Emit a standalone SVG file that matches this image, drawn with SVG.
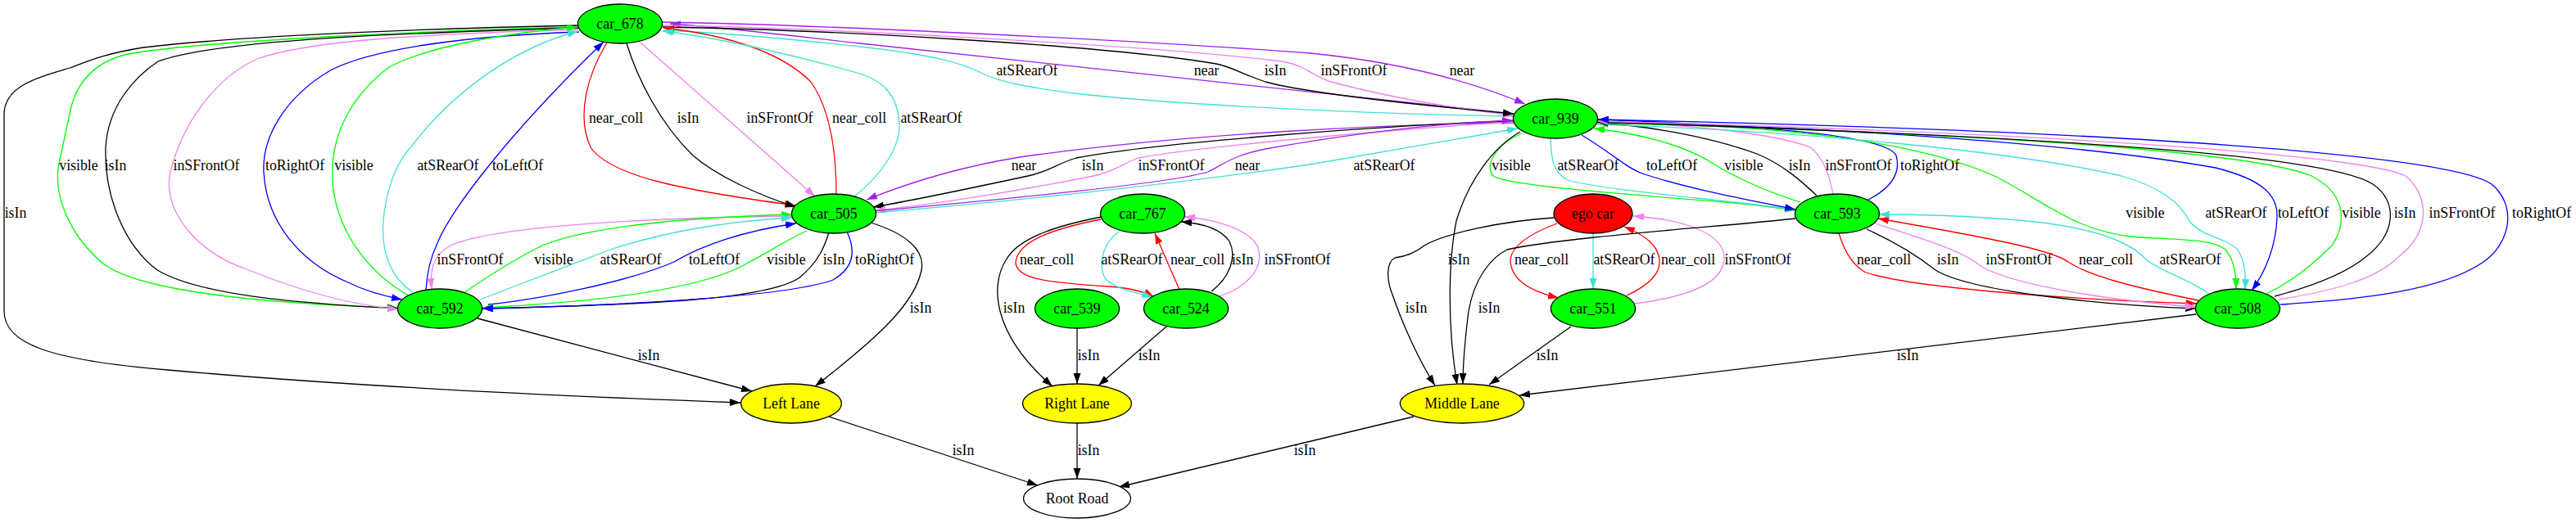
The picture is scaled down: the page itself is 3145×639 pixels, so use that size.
<svg xmlns="http://www.w3.org/2000/svg" width="3145" height="639" viewBox="0 0 3145 639">
<style>
text{font-family:"Liberation Serif","Times New Roman",serif;font-size:17.8px;text-anchor:middle;fill:#000}
.nd ellipse{stroke:#000;stroke-width:1.3}
.cg{fill:#00ff00}.cy{fill:#ffff00}.cr{fill:#ff0000}.cw{fill:#fff}
#edges path{fill:none;stroke-width:1.3}
.k{stroke:#000;marker-end:url(#ak)}
.r{stroke:#ff0000;marker-end:url(#ar)}
.p{stroke:#a020f0;marker-end:url(#ap)}
.g{stroke:#00ff00;marker-end:url(#ag)}
.t{stroke:#40e0d0;marker-end:url(#at)}
.v{stroke:#ee82ee;marker-end:url(#av)}
.b{stroke:#0000ff;marker-end:url(#ab)}
</style>
<defs>
<marker id="ak" viewBox="0 0 13 10" refX="13" refY="5" markerWidth="13" markerHeight="10" markerUnits="userSpaceOnUse" orient="auto"><path d="M0,0.5L13,5L0,9.5z" fill="#000"/></marker>
<marker id="ar" viewBox="0 0 13 10" refX="13" refY="5" markerWidth="13" markerHeight="10" markerUnits="userSpaceOnUse" orient="auto"><path d="M0,0.5L13,5L0,9.5z" fill="#ff0000"/></marker>
<marker id="ap" viewBox="0 0 13 10" refX="13" refY="5" markerWidth="13" markerHeight="10" markerUnits="userSpaceOnUse" orient="auto"><path d="M0,0.5L13,5L0,9.5z" fill="#a020f0"/></marker>
<marker id="ag" viewBox="0 0 13 10" refX="13" refY="5" markerWidth="13" markerHeight="10" markerUnits="userSpaceOnUse" orient="auto"><path d="M0,0.5L13,5L0,9.5z" fill="#00ff00"/></marker>
<marker id="at" viewBox="0 0 13 10" refX="13" refY="5" markerWidth="13" markerHeight="10" markerUnits="userSpaceOnUse" orient="auto"><path d="M0,0.5L13,5L0,9.5z" fill="#40e0d0"/></marker>
<marker id="av" viewBox="0 0 13 10" refX="13" refY="5" markerWidth="13" markerHeight="10" markerUnits="userSpaceOnUse" orient="auto"><path d="M0,0.5L13,5L0,9.5z" fill="#ee82ee"/></marker>
<marker id="ab" viewBox="0 0 13 10" refX="13" refY="5" markerWidth="13" markerHeight="10" markerUnits="userSpaceOnUse" orient="auto"><path d="M0,0.5L13,5L0,9.5z" fill="#0000ff"/></marker>
</defs>
<rect width="3145" height="639" fill="#fff"/>
<g id="edges">
<!-- car_939 <-> car_678 -->
<path class="t" d="M1848,142 C1700,140 1460,130 1320,115 C1255,107 1220,100 1200,90 C1175,77 1140,67 1050,57 C960,47 880,40 810,37"/><text x="1254" y="92">atSRearOf</text>
<path class="p" d="M1848,139 C1700,123 1300,80 1050,53 C960,43 880,33 818,29"/><text x="1473" y="92">near</text>
<path class="p" d="M808,27 C1000,30 1400,50 1600,65 C1700,75 1790,97 1862,127"/><text x="1785" y="92">near</text>
<path class="v" d="M809,31 C1000,34 1400,55 1565,75 C1595,80 1600,92 1625,100 C1700,120 1780,133 1848,141"/><text x="1653" y="92">inSFrontOf</text>
<path class="k" d="M809,33 C1000,36 1350,55 1485,78 C1505,82 1515,90 1545,100 C1600,115 1750,130 1848,139"/><text x="1557" y="92">isIn</text>
<!-- car_678 <-> car_505 -->
<path class="r" d="M741,52 C718,90 703,140 721,180 C745,215 830,232 971,251"/><text x="752" y="150">near_coll</text>
<path class="k" d="M765,53 C778,95 805,150 846,190 C875,215 925,238 972,253"/><text x="840" y="150">isIn</text>
<path class="v" d="M782,52 L995,240"/><text x="952" y="150">inSFrontOf</text>
<path class="r" d="M1021,238 C1021,200 1018,140 990,100 C950,60 880,42 810,34"/><text x="1049" y="150">near_coll</text>
<path class="t" d="M1042,241 C1075,215 1100,180 1098,150 C1096,120 1082,100 1050,90 C980,70 880,46 809,38"/><text x="1137" y="150">atSRearOf</text>
<!-- car_678 -> left side -->
<path class="k" d="M706,31 C560,34 310,42 175,58 C125,66 105,76 85,83 C45,95 5,105 5,140 L5,380 C5,420 60,440 205,452 C405,470 655,483 904,492"/><text x="19" y="266">isIn</text>
<path class="g" d="M706,33 C505,38 255,50 162,65 C122,72 97,95 87,130 L72,200 C64,240 87,290 127,323 C172,355 305,370 486,376"/><text x="96" y="208">visible</text>
<path class="k" d="M706,34 C505,40 265,48 193,75 C163,95 132,130 129,180 C127,240 152,300 192,330 C243,360 355,370 486,377"/><text x="141" y="208">isIn</text>
<path class="v" d="M706,36 C505,42 375,50 314,72 C263,95 223,150 208,210 C198,260 243,310 304,330 C365,355 426,372 486,378"/><text x="252" y="208">inSFrontOf</text>
<path class="b" d="M707,39 C565,44 455,60 405,85 C345,120 320,170 322,210 C325,270 365,320 425,345 C445,355 465,361 491,366"/><text x="360" y="208">toRightOf</text>
<path class="g" d="M499,361 C460,340 410,290 406,220 C403,170 425,120 475,82 C525,55 625,40 705,33"/><text x="432" y="208">visible</text>
<path class="t" d="M504,357 C478,340 465,310 468,270 C471,235 482,200 503,178 C543,125 615,62 706,38"/><text x="547" y="208">atSRearOf</text>
<path class="b" d="M520,355 C521,335 524,318 534,297 C549,260 614,170 737,51"/><text x="632" y="208">toLeftOf</text>
<!-- car_505 <-> car_592 -->
<path class="v" d="M967,264 C805,266 605,275 550,300 C528,312 525,330 527,353"/><text x="574" y="323">inSFrontOf</text>
<path class="g" d="M566,358 C592,340 622,320 662,300 C722,275 855,265 967,262"/><text x="676" y="323">visible</text>
<path class="t" d="M586,366 C642,345 693,325 745,305 C805,285 885,270 967,266"/><text x="770" y="323">atSRearOf</text>
<path class="b" d="M596,372 C655,366 765,345 823,320 C856,300 908,282 972,273"/><text x="872" y="323">toLeftOf</text>
<path class="g" d="M985,282 C957,295 935,310 915,320 C875,345 785,366 589,376"/><text x="960" y="323">visible</text>
<path class="k" d="M1012,284 C1007,300 1000,320 975,340 C935,365 805,372 589,377"/><text x="1018" y="323">isIn</text>
<path class="b" d="M1034,283 C1042,300 1047,325 1017,342 C967,360 805,372 589,377"/><text x="1080" y="323">toRightOf</text>
<!-- lanes and road -->
<path class="k" d="M583,389 L918,478"/><text x="792" y="440">isIn</text>
<path class="k" d="M1063,272 C1105,285 1130,305 1125,330 C1117,370 1075,410 995,472"/><text x="1124" y="382">isIn</text>
<path class="k" d="M1012,509 L1267,593"/><text x="1176" y="556">isIn</text>
<path class="k" d="M1315,517 L1315,585"/><text x="1329" y="556">isIn</text>
<path class="k" d="M1726,509 L1366,595"/><text x="1593" y="556">isIn</text>
<path class="k" d="M1315,401 L1315,469"/><text x="1329" y="440">isIn</text>
<path class="k" d="M1424,399 L1341,471"/><text x="1403" y="440">isIn</text>
<path class="k" d="M1345,265 C1293,275 1243,290 1228,318 C1208,350 1213,410 1285,472"/><text x="1238" y="382">isIn</text>
<!-- car_767 <-> car_524 -->
<path class="r" d="M1344,268 C1283,280 1243,295 1240,320 C1240,340 1273,345 1354,350 C1383,352 1398,357 1409,363"/><text x="1278" y="323">near_coll</text>
<path class="t" d="M1366,283 C1349,295 1339,320 1349,340 C1364,355 1390,358 1407,363"/><text x="1382" y="323">atSRearOf</text>
<path class="r" d="M1440,354 L1410,285"/><text x="1462" y="323">near_coll</text>
<path class="k" d="M1479,356 C1500,340 1511,315 1501,295 C1491,280 1470,273 1442,271"/><text x="1517" y="323">isIn</text>
<path class="v" d="M1489,362 C1525,350 1545,325 1535,300 C1523,280 1485,268 1446,265"/><text x="1584" y="323">inSFrontOf</text>
<!-- car_939 <-> car_505 -->
<path class="p" d="M1848,150 C1700,152 1455,162 1245,192 C1165,205 1105,225 1058,244"/><text x="1250" y="208">near</text>
<path class="k" d="M1848,148 C1700,152 1405,175 1314,193 C1290,200 1280,210 1255,215 C1185,230 1115,245 1066,253"/><text x="1334" y="208">isIn</text>
<path class="v" d="M1848,149 C1700,158 1455,180 1390,193 C1370,200 1360,210 1335,215 C1235,235 1125,252 1068,257"/><text x="1430" y="208">inSFrontOf</text>
<path class="p" d="M1068,258 C1205,245 1425,225 1475,210 C1495,200 1505,190 1545,182 C1655,162 1765,150 1847,147"/><text x="1523" y="208">near</text>
<path class="t" d="M1068,260 C1305,240 1505,215 1605,200 C1705,183 1785,168 1853,157"/><text x="1690" y="208">atSRearOf</text>
<!-- car_939 <-> car_593 -->
<path class="g" d="M1858,163 C1828,175 1813,200 1822,214 C1835,226 1955,235 2105,247 C2145,250 2170,254 2192,257"/><text x="1845" y="208">visible</text>
<path class="t" d="M1893,169 C1894,190 1894,210 1914,220 C1955,232 2085,242 2192,256"/><text x="1939" y="208">atSRearOf</text>
<path class="b" d="M1931,165 C1965,185 1985,205 2005,212 C2065,232 2145,246 2192,256"/><text x="2041" y="208">toLeftOf</text>
<path class="g" d="M2198,247 C2160,235 2125,220 2095,202 C2065,182 2015,165 1946,157"/><text x="2129" y="208">visible</text>
<path class="k" d="M2218,239 C2198,220 2175,200 2145,188 C2085,166 2005,153 1950,150"/><text x="2197" y="208">isIn</text>
<path class="v" d="M2238,238 C2234,215 2226,192 2210,180 C2165,162 2055,152 1950,148"/><text x="2269" y="208">inSFrontOf</text>
<path class="b" d="M2279,245 C2305,232 2322,215 2315,190 C2305,170 2205,155 1951,146"/><text x="2356" y="208">toRightOf</text>
<!-- car_939 <-> car_508 -->
<path class="g" d="M1950,150 C2155,152 2335,170 2435,215 C2495,245 2535,285 2612,290 C2662,293 2702,292 2717,305 C2728,318 2730,335 2730,353"/><text x="2619" y="266">visible</text>
<path class="t" d="M1950,152 C2205,160 2460,185 2590,215 C2635,228 2660,245 2673,270 C2688,290 2718,290 2732,305 C2741,320 2742,335 2741,354"/><text x="2730" y="266">atSRearOf</text>
<path class="b" d="M1950,149 C2255,155 2555,178 2705,205 C2765,220 2781,240 2780,265 C2779,300 2766,332 2749,355"/><text x="2812" y="266">toLeftOf</text>
<path class="g" d="M2767,359 C2797,345 2822,325 2847,300 C2867,270 2862,235 2822,215 C2762,190 2505,165 1950,150"/><text x="2883" y="266">visible</text>
<path class="k" d="M2777,362 C2822,350 2862,335 2887,315 C2927,285 2927,245 2897,225 C2852,195 2605,170 1950,149"/><text x="2936" y="266">isIn</text>
<path class="v" d="M2782,366 C2852,355 2902,340 2927,315 C2967,285 2967,240 2937,215 C2902,195 2605,165 1950,148"/><text x="3006" y="266">inSFrontOf</text>
<path class="b" d="M2784,372 C2882,366 2982,355 3032,320 C3067,295 3072,250 3042,225 C2992,190 2605,160 1951,146"/><text x="3103" y="266">toRightOf</text>
<!-- car_593 <-> car_508 -->
<path class="r" d="M2245,285 C2250,300 2257,320 2276,332 C2323,350 2505,365 2682,371"/><text x="2300" y="323">near_coll</text>
<path class="k" d="M2279,280 C2312,295 2338,310 2363,330 C2403,355 2555,372 2681,377"/><text x="2378" y="323">isIn</text>
<path class="v" d="M2289,273 C2342,290 2392,305 2414,322 C2444,345 2555,365 2681,375"/><text x="2465" y="323">inSFrontOf</text>
<path class="r" d="M2684,367 C2625,355 2555,340 2525,320 C2505,305 2425,290 2293,267"/><text x="2571" y="323">near_coll</text>
<path class="t" d="M2697,359 C2670,340 2635,330 2620,317 C2605,300 2565,275 2438,267 C2385,263 2335,262 2294,262"/><text x="2674" y="323">atSRearOf</text>
<!-- ego car <-> car_551 -->
<path class="r" d="M1901,273 C1869,285 1846,300 1844,317 C1844,340 1864,355 1903,364"/><text x="1882" y="323">near_coll</text>
<path class="t" d="M1945,285 L1945,353"/><text x="1983" y="323">atSRearOf</text>
<path class="r" d="M1986,361 C2010,350 2028,335 2026,317 C2024,300 2010,288 1983,277"/><text x="2061" y="323">near_coll</text>
<path class="v" d="M1996,371 C2065,362 2105,345 2105,315 C2105,285 2055,268 1994,264"/><text x="2146" y="323">inSFrontOf</text>
<!-- Middle Lane -->
<path class="k" d="M1897,266 C1834,270 1764,285 1739,300 C1729,308 1719,313 1703,315 C1693,320 1692,340 1700,360 C1712,395 1732,440 1752,471"/><text x="1729" y="382">isIn</text>
<path class="k" d="M1856,161 C1823,180 1793,220 1778,270 C1768,320 1767,400 1779,470"/><text x="1781" y="323">isIn</text>
<path class="k" d="M2192,267 C2100,277 1905,290 1840,305 C1820,315 1800,340 1793,380 C1788,420 1786,445 1786,469"/><text x="1818" y="382">isIn</text>
<path class="k" d="M1918,399 L1818,470"/><text x="1889" y="440">isIn</text>
<path class="k" d="M2681,384 L1855,483"/><text x="2329" y="440">isIn</text>
</g>
<g id="car_678" class="nd"><ellipse class="cg" cx="757" cy="29" rx="51.5" ry="24"/><text x="757" y="35">car_678</text></g>
<g id="car_939" class="nd"><ellipse class="cg" cx="1899" cy="145" rx="51.5" ry="24"/><text x="1899" y="151">car_939</text></g>
<g id="car_505" class="nd"><ellipse class="cg" cx="1018" cy="261" rx="51.5" ry="24"/><text x="1018" y="267">car_505</text></g>
<g id="car_767" class="nd"><ellipse class="cg" cx="1395" cy="261" rx="51.5" ry="24"/><text x="1395" y="267">car_767</text></g>
<g id="ego_car" class="nd"><ellipse class="cr" cx="1945" cy="261" rx="48" ry="24"/><text x="1945" y="267">ego car</text></g>
<g id="car_593" class="nd"><ellipse class="cg" cx="2243" cy="261" rx="51.5" ry="24"/><text x="2243" y="267">car_593</text></g>
<g id="car_592" class="nd"><ellipse class="cg" cx="537" cy="377" rx="51.5" ry="24"/><text x="537" y="383">car_592</text></g>
<g id="car_539" class="nd"><ellipse class="cg" cx="1315" cy="377" rx="51.5" ry="24"/><text x="1315" y="383">car_539</text></g>
<g id="car_524" class="nd"><ellipse class="cg" cx="1448" cy="377" rx="51.5" ry="24"/><text x="1448" y="383">car_524</text></g>
<g id="car_551" class="nd"><ellipse class="cg" cx="1945" cy="377" rx="51.5" ry="24"/><text x="1945" y="383">car_551</text></g>
<g id="car_508" class="nd"><ellipse class="cg" cx="2732" cy="377" rx="51.5" ry="24"/><text x="2732" y="383">car_508</text></g>
<g id="left_lane" class="nd"><ellipse class="cy" cx="966" cy="493" rx="61.4" ry="24"/><text x="966" y="499">Left Lane</text></g>
<g id="right_lane" class="nd"><ellipse class="cy" cx="1315" cy="493" rx="66.4" ry="24"/><text x="1315" y="499">Right Lane</text></g>
<g id="middle_lane" class="nd"><ellipse class="cy" cx="1785" cy="493" rx="75.6" ry="24"/><text x="1785" y="499">Middle Lane</text></g>
<g id="root_road" class="nd"><ellipse class="cw" cx="1315" cy="609" rx="65.4" ry="24"/><text x="1315" y="615">Root Road</text></g>
</svg>
